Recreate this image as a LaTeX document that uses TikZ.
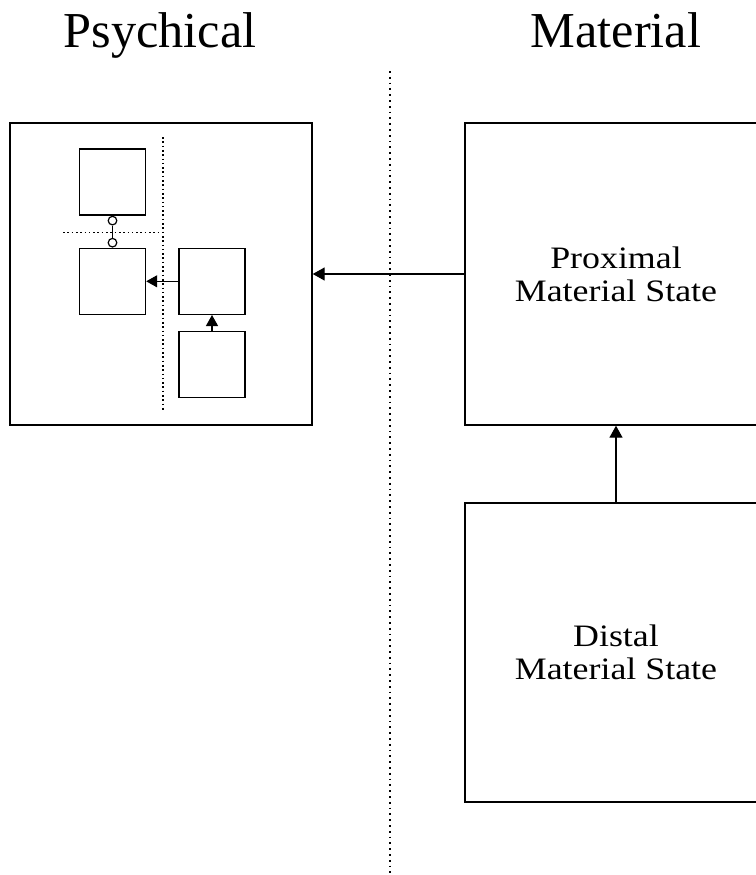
\documentclass[tikz,border=0pt]{standalone}
\usepackage{fontspec}
\setmainfont{Liberation Serif}
\newfontfamily\boxfont[FakeStretch=1.15]{Liberation Serif}
\usetikzlibrary{arrows.meta}
\begin{document}
\begin{tikzpicture}[x=1bp,y=-1bp,
  line width=1.4bp,
  frame/.style={draw, minimum width=302bp, inner sep=0pt, align=center,
    font=\boxfont\fontsize{31.3}{33.4}\selectfont},
  smallbox/.style={draw, minimum width=66bp, minimum height=66bp, inner sep=0pt},
  joint/.style={draw, circle, fill=white, minimum size=8.6bp, inner sep=0pt, line width=1.2bp},
  bigarrow/.style={-{Triangle[length=12bp,width=13bp]}},
  smallarrow/.style={line width=1.2bp,-{Triangle[length=11bp,width=12bp]}},
  divider/.style={line width=1.8bp, dash pattern=on 1.8bp off 4bp},
  subdivider/.style={line width=1.6bp, dash pattern=on 1.6bp off 2.7bp},
  heading/.style={font=\fontsize{50.5}{60}\selectfont, anchor=base}]
\clip (0,0) rectangle (756,875);
\fill[white] (0,0) rectangle (756,875);

% headings
\node[heading] (hpsy) at (160,47) {Psychical};
\node[heading] (hmat) at (616,47) {Material};

% main divider
\coordinate (dtop) at (390,71);
\coordinate (dbot) at (390,875);
\draw[divider] (dtop) -- (dbot);

% material side
\node[frame, minimum height=302bp] (prox) at (616,274) {Proximal\\Material State};
\node[frame, minimum height=299bp] (dist) at (616,652.5) {Distal\\Material State};

% psychical side
\node[frame, minimum height=302bp] (psy) at (161,274) {};

\node[smallbox] (a) at (112.5,182) {};
\node[smallbox] (b) at (112.5,281.3) {};
\node[smallbox] (c) at (212,281.3) {};
\node[smallbox] (d) at (212,364.5) {};

\coordinate (vtop) at (162.7,137);
\coordinate (vbot) at (162.7,410);
\coordinate (hleft) at (63,232.3);
\coordinate (hright) at (162.7,232.3);
\draw[subdivider] (vtop) -- (vbot);
\draw[subdivider] (hleft) -- (hright);

\node[joint, anchor=north] (o1) at (a.south) {};
\node[joint, anchor=south] (o2) at (b.north) {};
\draw[line width=1.2bp] (o1) -- (o2);

\draw[smallarrow] (c.west) -- (b.east);
\draw[smallarrow] (d.north) -- (c.south);

% connectors between the two sides
\draw[bigarrow] (prox.west) -- (psy.east);
\draw[bigarrow] (dist.north) -- (prox.south);
\end{tikzpicture}
\end{document}
